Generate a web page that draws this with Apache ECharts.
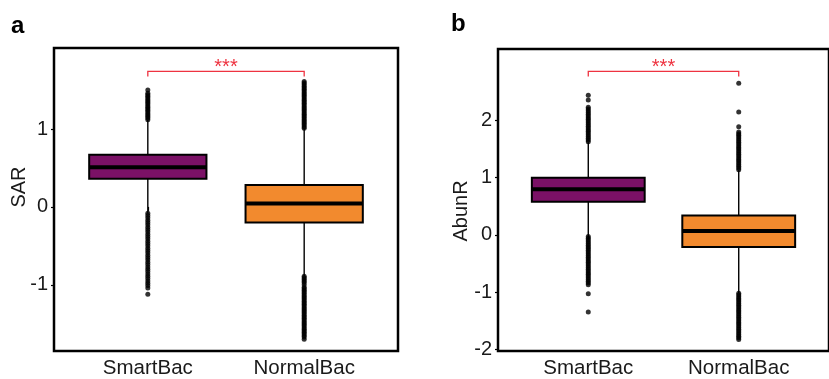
<!DOCTYPE html>
<html>
<head>
<meta charset="utf-8">
<script src="https://cdn.jsdelivr.net/npm/echarts@6/dist/echarts.min.js"></script>
<style>
html,body{margin:0;padding:0;background:#fff;}
#chart{width:829px;height:379px;}
</style>
</head>
<body>
<div id="chart"></div>
<script>
// ---- data ----
const categories = ['SmartBac', 'NormalBac'];
// [whiskerLow, Q1, median, Q3, whiskerHigh]
const sarSmart  = [-0.08, 0.36, 0.51, 0.67, 1.12];
const sarNormal = [-0.89, -0.20, 0.045, 0.28, 1.01];
const abunSmart  = [-0.03, 0.58, 0.80, 1.00, 1.62];
const abunNormal = [-1.02, -0.21, 0.07, 0.34, 1.13];

const sarSmartOut = [1.12,1.14,1.16,1.18,1.20,1.22,1.24,1.26,1.28,1.30,1.32,1.34,1.36,1.38,1.40,1.42,1.44,1.46,1.50,
  -0.08,-0.11,-0.14,-0.17,-0.20,-0.23,-0.26,-0.29,-0.32,-0.35,-0.38,-0.41,-0.44,-0.47,-0.50,-0.53,-0.56,-0.59,-0.62,-0.65,-0.68,-0.71,-0.74,-0.77,-0.80,-0.83,-0.86,-0.89,-0.92,-0.95,-0.98,-1.01,-1.04,-1.12];
const sarNormalOut = [1.01,1.03,1.05,1.07,1.09,1.11,1.13,1.15,1.17,1.19,1.21,1.23,1.25,1.27,1.29,1.31,1.33,1.35,1.37,1.39,1.41,1.43,1.45,1.47,1.49,1.51,1.53,1.55,1.57,1.59,1.61,
  -0.89,-0.91,-0.93,-0.95,-0.97,-1.00,-1.03,-1.05,-1.07,-1.09,-1.11,-1.13,-1.15,-1.17,-1.19,-1.21,-1.23,-1.25,-1.27,-1.29,-1.31,-1.33,-1.35,-1.37,-1.39,-1.41,-1.43,-1.45,-1.47,-1.49,-1.51,-1.53,-1.55,-1.57,-1.59,-1.61,-1.63,-1.65,-1.67,-1.70];
const abunSmartOut = [1.63,1.66,1.69,1.72,1.75,1.78,1.81,1.84,1.87,1.90,1.93,1.96,1.99,2.02,2.05,2.08,2.11,2.14,2.17,2.20,2.23,2.36,2.44,
  -0.03,-0.06,-0.09,-0.12,-0.15,-0.18,-0.21,-0.24,-0.27,-0.30,-0.33,-0.36,-0.39,-0.42,-0.45,-0.48,-0.51,-0.54,-0.57,-0.60,-0.63,-0.66,-0.69,-0.72,-0.75,-0.78,-0.81,-0.84,-0.87,-1.03,-1.35];
const abunNormalOut = [1.14,1.17,1.20,1.23,1.26,1.29,1.32,1.35,1.38,1.41,1.44,1.47,1.50,1.53,1.56,1.59,1.62,1.65,1.68,1.71,1.74,1.77,1.80,1.89,2.15,2.65,
  -1.02,-1.05,-1.08,-1.11,-1.14,-1.17,-1.20,-1.23,-1.26,-1.29,-1.32,-1.35,-1.38,-1.41,-1.44,-1.47,-1.50,-1.53,-1.56,-1.59,-1.62,-1.65,-1.68,-1.71,-1.74,-1.77,-1.80,-1.83];

const sarTicks = [-1, 0, 1];
const abunTicks = [-2, -1, 0, 1, 2];
const xTicks = [1, 2];
// significance bracket: [x1, x2, top, tipBottom, label]
const sarSig = [1, 2, 1.74, 1.675, '***'];
const abunSig = [1, 2, 2.86, 2.77, '***'];

// ---- styles ----
const boxColors = ['#7b1166', '#f28a2e'];
const sigColor = '#ee3340';
const font = 'Liberation Sans, Arial, sans-serif';

const chart = echarts.init(document.getElementById('chart'), null, {renderer: 'canvas'});

function boxRender(params, api) {
  const x = api.value(0);
  const lo = api.coord([x, api.value(1)]);
  const q1 = api.coord([x, api.value(2)]);
  const md = api.coord([x, api.value(3)]);
  const q3 = api.coord([x, api.value(4)]);
  const hi = api.coord([x, api.value(5)]);
  const hw = api.size([0.75, 0])[0] / 2;
  const color = boxColors[params.dataIndex];
  return {
    type: 'group',
    children: [
      {type: 'line', shape: {x1: lo[0], y1: lo[1], x2: hi[0], y2: hi[1]}, style: {stroke: '#000', lineWidth: 1.4}},
      {type: 'rect', shape: {x: q3[0] - hw, y: q3[1], width: hw * 2, height: q1[1] - q3[1]}, style: {fill: color, stroke: '#000', lineWidth: 2}},
      {type: 'line', shape: {x1: md[0] - hw, y1: md[1], x2: md[0] + hw, y2: md[1]}, style: {stroke: '#000', lineWidth: 4}}
    ]
  };
}

function sigRender(params, api) {
  const x1 = api.value(0), x2 = api.value(1), top = api.value(2), tip = api.value(3);
  const a = api.coord([x1, tip]), b = api.coord([x1, top]), c = api.coord([x2, top]), d = api.coord([x2, tip]);
  return {
    type: 'group',
    children: [
      {type: 'polyline', shape: {points: [a, b, c, d]}, style: {stroke: sigColor, lineWidth: 1.3, fill: null}},
      {type: 'text', x: (b[0] + c[0]) / 2, y: b[1] + 6, style: {text: api.value(4), fill: sigColor, font: '20px ' + font, align: 'center', verticalAlign: 'bottom'}}
    ]
  };
}

function boxData(a, b) { return [[1].concat(a), [2].concat(b)]; }
function outData(x, arr) { return arr.map(v => [x, v]); }

function xAxis(gi) {
  return {
    type: 'value', gridIndex: gi, min: 0.4, max: 2.6,
    axisLine: {show: false}, splitLine: {show: false},
    axisTick: {show: true, customValues: xTicks, length: 4, inside: false, lineStyle: {color: '#000', width: 1.2}},
    axisLabel: {customValues: xTicks, formatter: v => categories[Math.round(v) - 1], color: '#1a1a1a', fontSize: 20.5, fontFamily: font, margin: 7}
  };
}
function yAxis(gi, min, max, ticks) {
  return {
    type: 'value', gridIndex: gi, min: min, max: max,
    axisLine: {show: false}, splitLine: {show: false},
    axisTick: {show: true, customValues: ticks, length: 3, lineStyle: {color: '#000', width: 1.2}},
    axisLabel: {customValues: ticks, color: '#1a1a1a', fontSize: 20, fontFamily: font, margin: 6}
  };
}

const option = {
  backgroundColor: '#fff',
  animation: false,
  grid: [
    {left: 54, top: 48, width: 344, height: 303, show: true, borderColor: '#000', borderWidth: 2.5, backgroundColor: 'transparent'},
    {left: 498, top: 49, width: 344, height: 302, show: true, borderColor: '#000', borderWidth: 2.5, backgroundColor: 'transparent'}
  ],
  xAxis: [xAxis(0), xAxis(1)],
  yAxis: [yAxis(0, -1.85, 2.04, sarTicks), yAxis(1, -2.03, 3.25, abunTicks)],
  graphic: [
    {type: 'text', left: 11, top: 14, style: {text: 'a', font: 'bold 24px ' + font, fill: '#000'}},
    {type: 'text', left: 451, top: 12, style: {text: 'b', font: 'bold 24px ' + font, fill: '#000'}},
    {type: 'text', x: 19.5, y: 187, rotation: Math.PI / 2, style: {text: 'SAR', font: '20px ' + font, fill: '#1a1a1a', align: 'center', verticalAlign: 'middle'}},
    {type: 'text', x: 461, y: 211, rotation: Math.PI / 2, style: {text: 'AbunR', font: '20px ' + font, fill: '#1a1a1a', align: 'center', verticalAlign: 'middle'}}
  ],
  series: [
    {type: 'scatter', xAxisIndex: 0, yAxisIndex: 0, data: outData(1, sarSmartOut), symbolSize: 5, itemStyle: {color: '#000'}, silent: true},
    {type: 'scatter', xAxisIndex: 0, yAxisIndex: 0, data: outData(2, sarNormalOut), symbolSize: 5, itemStyle: {color: '#000'}, silent: true},
    {type: 'scatter', xAxisIndex: 1, yAxisIndex: 1, data: outData(1, abunSmartOut), symbolSize: 5, itemStyle: {color: '#000'}, silent: true},
    {type: 'scatter', xAxisIndex: 1, yAxisIndex: 1, data: outData(2, abunNormalOut), symbolSize: 5, itemStyle: {color: '#000'}, silent: true},
    {type: 'custom', xAxisIndex: 0, yAxisIndex: 0, renderItem: boxRender, data: boxData(sarSmart, sarNormal), z: 3},
    {type: 'custom', xAxisIndex: 1, yAxisIndex: 1, renderItem: boxRender, data: boxData(abunSmart, abunNormal), z: 3},
    {type: 'custom', xAxisIndex: 0, yAxisIndex: 0, renderItem: sigRender, data: [sarSig], z: 3},
    {type: 'custom', xAxisIndex: 1, yAxisIndex: 1, renderItem: sigRender, data: [abunSig], z: 3}
  ]
};
chart.setOption(option);
</script>
</body>
</html>
